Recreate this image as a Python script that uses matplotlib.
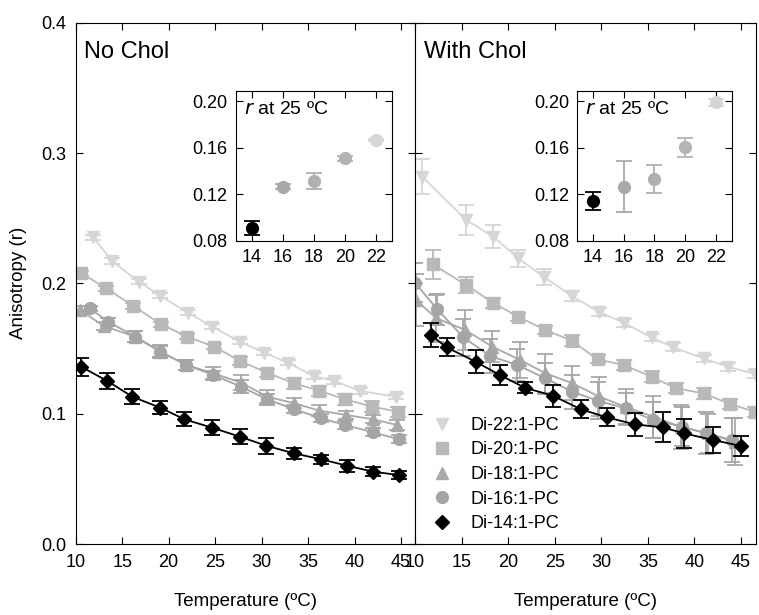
import numpy as np
import matplotlib
matplotlib.use('Agg')
import matplotlib.pyplot as plt

plt.rcParams['font.family'] = ['Liberation Sans', 'DejaVu Sans']

# ---- No Chol panel ----
nc_t22 = [11.9, 13.9, 16.8, 19.1, 22.1, 24.7, 27.7, 30.3, 32.8, 35.6, 37.8, 40.6, 44.5]
nc_r22 = [0.2353, 0.2171, 0.2013, 0.1905, 0.1775, 0.1667, 0.1552, 0.1468, 0.1391, 0.1289, 0.1251, 0.1174, 0.1130]
nc_e22 = [0.002, 0.002, 0.002, 0.002, 0.002, 0.002, 0.002, 0.002, 0.002, 0.002, 0.002, 0.002, 0.002]

nc_t20 = [10.6, 13.3, 16.2, 19.2, 22.0, 24.9, 27.7, 30.6, 33.5, 36.2, 39.0, 41.9, 44.7]
nc_r20 = [0.2077, 0.1962, 0.1826, 0.1686, 0.1591, 0.1514, 0.1404, 0.1314, 0.1233, 0.1176, 0.1110, 0.1054, 0.1015]
nc_e20 = [0.002, 0.002, 0.002, 0.002, 0.002, 0.002, 0.003, 0.003, 0.004, 0.004, 0.004, 0.004, 0.004]

nc_t18 = [10.5, 13.0, 16.4, 19.1, 21.9, 24.8, 27.8, 30.6, 33.5, 36.2, 39.1, 42.0, 44.6]
nc_r18 = [0.1795, 0.1673, 0.1591, 0.1476, 0.1374, 0.1310, 0.1238, 0.1131, 0.1080, 0.1024, 0.0990, 0.0957, 0.0913]
nc_e18 = [0.003, 0.003, 0.004, 0.004, 0.004, 0.005, 0.006, 0.005, 0.004, 0.004, 0.003, 0.003, 0.004]

nc_t16 = [11.5, 13.5, 16.4, 19.1, 21.9, 24.8, 27.8, 30.6, 33.5, 36.4, 39.0, 42.0, 44.8]
nc_r16 = [0.1808, 0.1706, 0.1591, 0.1476, 0.1374, 0.1297, 0.1207, 0.1110, 0.1034, 0.0965, 0.0913, 0.0857, 0.0803]
nc_e16 = [0.002, 0.003, 0.004, 0.005, 0.004, 0.003, 0.005, 0.004, 0.003, 0.003, 0.003, 0.003, 0.003]

nc_t14 = [10.6, 13.4, 16.1, 19.1, 21.7, 24.7, 27.7, 30.5, 33.5, 36.4, 39.2, 42.0, 44.8]
nc_r14 = [0.1360, 0.1251, 0.1130, 0.1046, 0.0957, 0.0892, 0.0823, 0.0754, 0.0696, 0.0650, 0.0601, 0.0555, 0.0529]
nc_e14 = [0.007, 0.0064, 0.0058, 0.005, 0.0055, 0.0058, 0.0058, 0.006, 0.004, 0.0035, 0.0047, 0.0035, 0.003]

# ---- With Chol panel ----
wc_t22 = [10.8, 15.5, 18.4, 21.1, 23.8, 26.8, 29.7, 32.4, 35.4, 37.7, 41.0, 43.6, 46.5]
wc_r22 = [0.2818, 0.2486, 0.2358, 0.2192, 0.2051, 0.1905, 0.1783, 0.1698, 0.1585, 0.1509, 0.1424, 0.1360, 0.1304]
wc_e22 = [0.0134, 0.0118, 0.0086, 0.0064, 0.006, 0.004, 0.003, 0.003, 0.003, 0.003, 0.003, 0.003, 0.003]

wc_t20 = [11.9, 15.5, 18.4, 21.1, 24.0, 26.8, 29.6, 32.4, 35.4, 38.0, 41.0, 43.8, 46.5]
wc_r20 = [0.2146, 0.1987, 0.1851, 0.1743, 0.1642, 0.1561, 0.1417, 0.1374, 0.1284, 0.1195, 0.1156, 0.1074, 0.1015]
wc_e20 = [0.011, 0.006, 0.004, 0.003, 0.003, 0.004, 0.003, 0.004, 0.004, 0.004, 0.004, 0.004, 0.004]

wc_t18 = [10.1, 12.3, 15.4, 18.3, 21.3, 24.0, 26.9, 29.8, 32.6, 35.6, 38.5, 41.4, 44.3]
wc_r18 = [0.1872, 0.1732, 0.1642, 0.1514, 0.1412, 0.1310, 0.1233, 0.1130, 0.1053, 0.0977, 0.0900, 0.0850, 0.0785]
wc_e18 = [0.020, 0.018, 0.015, 0.012, 0.014, 0.015, 0.013, 0.015, 0.014, 0.016, 0.017, 0.015, 0.018]

wc_t16 = [10.0, 12.4, 15.2, 18.1, 21.0, 24.0, 26.9, 29.6, 32.6, 35.6, 38.7, 41.2, 44.0]
wc_r16 = [0.2005, 0.1800, 0.1585, 0.1442, 0.1373, 0.1271, 0.1168, 0.1100, 0.1041, 0.0951, 0.0900, 0.0850, 0.0798]
wc_e16 = [0.015, 0.012, 0.014, 0.013, 0.012, 0.012, 0.013, 0.014, 0.012, 0.014, 0.015, 0.016, 0.017]

wc_t14 = [11.7, 13.4, 16.5, 19.1, 21.8, 24.8, 27.8, 30.6, 33.6, 36.6, 38.9, 42.0, 45.0]
wc_r14 = [0.1604, 0.1509, 0.1399, 0.1297, 0.1199, 0.1138, 0.1034, 0.0972, 0.0918, 0.0895, 0.0849, 0.0798, 0.0752]
wc_e14 = [0.009, 0.0068, 0.009, 0.0077, 0.0044, 0.0083, 0.007, 0.007, 0.0086, 0.0115, 0.011, 0.010, 0.0074]

# ---- insets: r at 25 C ----
chain = [14, 16, 18, 20, 22]
nc_r25 = [0.0905, 0.1263, 0.1314, 0.1507, 0.1665]
nc_e25 = [0.006, 0.002, 0.007, 0.002, 0.001]
wc_r25 = [0.1140, 0.1263, 0.1327, 0.1602, 0.1989]
wc_e25 = [0.008, 0.022, 0.012, 0.008, 0.003]

labels = ['Di-22:1-PC', 'Di-20:1-PC', 'Di-18:1-PC', 'Di-16:1-PC', 'Di-14:1-PC']
markers = ['v', 's', '^', 'o', 'D']
colors = ['#d6d6d6', '#b9b9b9', '#a9a9a9', '#a5a5a5', 'black']
inset_colors = ['black', '#a8a8a8', '#b0b0b0', '#b4b4b4', '#d6d6d6']

fig = plt.figure(figsize=(7.59, 6.15), dpi=100)
ax1 = fig.add_axes([0.0997, 0.1154, 0.4471, 0.8477])
ax2 = fig.add_axes([0.5468, 0.1154, 0.4492, 0.8477])

panels = [
    (ax1, [(nc_t22, nc_r22, nc_e22), (nc_t20, nc_r20, nc_e20), (nc_t18, nc_r18, nc_e18),
           (nc_t16, nc_r16, nc_e16), (nc_t14, nc_r14, nc_e14)], 46.5, 'No Chol'),
    (ax2, [(wc_t22, wc_r22, wc_e22), (wc_t20, wc_r20, wc_e20), (wc_t18, wc_r18, wc_e18),
           (wc_t16, wc_r16, wc_e16), (wc_t14, wc_r14, wc_e14)], 46.6, 'With Chol'),
]

for ax, series, xmax, title in panels:
    for (t, r, e), lab, m, c in zip(series, labels, markers, colors):
        ax.errorbar(t, r, yerr=e, fmt='none', ecolor=c, elinewidth=1.3, capsize=5.5, capthick=1.3)
        ax.plot(t, r, '-', color=c, lw=1.3)
        ax.plot(t, r, linestyle='none', marker=m, color=c, ms=8.5 if m != 'D' else 7.5, label=lab)
    ax.set_xlim(10, xmax)
    ax.set_ylim(0, 0.4)
    ax.set_xticks([10, 15, 20, 25, 30, 35, 40, 45])
    ax.set_yticks([0, 0.1, 0.2, 0.3, 0.4])
    ax.tick_params(direction='in', top=True, right=True, length=5, labelsize=13, pad=7)
    ax.set_xlabel('Temperature (ºC)', fontsize=13.5, labelpad=16)
    ax.text(0.025, 0.965, title, transform=ax.transAxes, fontsize=17, va='top', ha='left')

ax1.set_yticklabels(['0.0', '0.1', '0.2', '0.3', '0.4'])
ax1.set_ylabel('Anisotropy (r)', fontsize=13.5, labelpad=10)
ax2.tick_params(labelleft=False)

handles, labs = ax2.get_legend_handles_labels()
ax2.legend(handles[-5:], labs[-5:], loc='upper left', bbox_to_anchor=(0.0, 0.275), frameon=False,
           fontsize=13, handletextpad=1.0, labelspacing=0.42, handlelength=1.2)

# insets
for rect, r25, e25 in [([0.3109, 0.6089, 0.2051, 0.2436], nc_r25, nc_e25),
                       ([0.7606, 0.6089, 0.2034, 0.2436], wc_r25, wc_e25)]:
    ins = fig.add_axes(rect)
    for x, r, e, c in zip(chain, r25, e25, inset_colors):
        ins.errorbar(x, r, yerr=e, fmt='o', color=c, ecolor=c, ms=8.5, capsize=5.5,
                     elinewidth=1.3, capthick=1.3)
    ins.set_xlim(13, 23)
    ins.set_ylim(0.08, 0.209)
    ins.set_xticks(chain)
    ins.set_yticks([0.08, 0.12, 0.16, 0.20])
    ins.set_yticklabels(['0.08', '0.12', '0.16', '0.20'])
    ins.tick_params(direction='in', top=True, right=True, length=5, labelsize=13, pad=6)
    ins.text(0.05, 0.93, r'$\it{r}$ at 25 ºC', transform=ins.transAxes, fontsize=14, va='top')

fig.savefig('out.png', dpi=100)
